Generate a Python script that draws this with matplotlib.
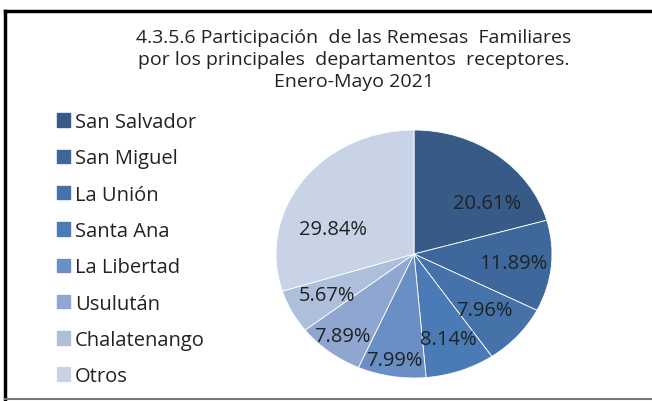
import matplotlib.pyplot as plt
from matplotlib.lines import Line2D
from matplotlib.patches import Rectangle
import numpy as np

departamentos = ['San Salvador', 'San Miguel', 'La Unión', 'Santa Ana',
                 'La Libertad', 'Usulután', 'Chalatenango', 'Otros']
participacion = [20.61, 11.89, 7.96, 8.14, 7.99, 7.89, 5.67, 29.84]
colores = ['#375a87', '#3e679b', '#4472a9', '#4a7bb6',
           '#6a8fc4', '#8fa7d0', '#aebfdc', '#c9d3e6']
dist_etiquetas = [0.69, 0.72, 0.68, 0.73, 0.87, 0.84, 0.71, 0.63]

plt.rcParams['font.family'] = ['Open Sans', 'DejaVu Sans']

fig = plt.figure(figsize=(6.52, 4.02), dpi=100)

# marco
fig.add_artist(Line2D([5/652, 1], [1-12/402, 1-12/402], color='black', lw=2.5))
fig.add_artist(Line2D([5/652, 5/652], [1-12/402, 1-400/402], color='black', lw=2.5))
fig.add_artist(Line2D([5/652, 1], [1-400/402, 1-400/402], color='#777777', lw=1.5))

titulo = ('4.3.5.6 Participación  de las Remesas  Familiares\n'
          'por los principales  departamentos  receptores.\n'
          'Enero-Mayo 2021')
fig.text(354/652, 1-60/402, titulo, ha='center', va='center', fontsize=14,
         linespacing=1.27, color='#222222')

ax = fig.add_axes([(414-138)/652, (402-255-124)/402, 276/652, 248/402])
wedges, textos, pcts = ax.pie(participacion, colors=colores, startangle=90,
                              counterclock=False, autopct='%.2f%%',
                              pctdistance=0.7,
                              wedgeprops=dict(edgecolor='white', linewidth=0.6),
                              textprops=dict(fontsize=14.5, color='#222222'))
ax.set_aspect('auto')
ax.set_xlim(-1, 1)
ax.set_ylim(-1, 1)

for w, t, d in zip(wedges, pcts, dist_etiquetas):
    ang = np.deg2rad((w.theta1 + w.theta2) / 2)
    t.set_position((d*np.cos(ang), d*np.sin(ang)))
# ajustes tipo Excel
pcts[0].set_position((0.53, 0.41))
pcts[-1].set_position((-0.59, 0.20))

handles = [Rectangle((0, 0), 1, 1, color=c) for c in colores]
fig.legend(handles, departamentos, loc='upper left',
           bbox_to_anchor=(49/652, 1-105/402), frameon=False,
           prop=dict(size=14.5), borderaxespad=0,
           handlelength=0.65, handleheight=0.65, handletextpad=0.25,
           labelspacing=0.81, labelcolor='#222222')

fig.savefig('out.png', dpi=100)
